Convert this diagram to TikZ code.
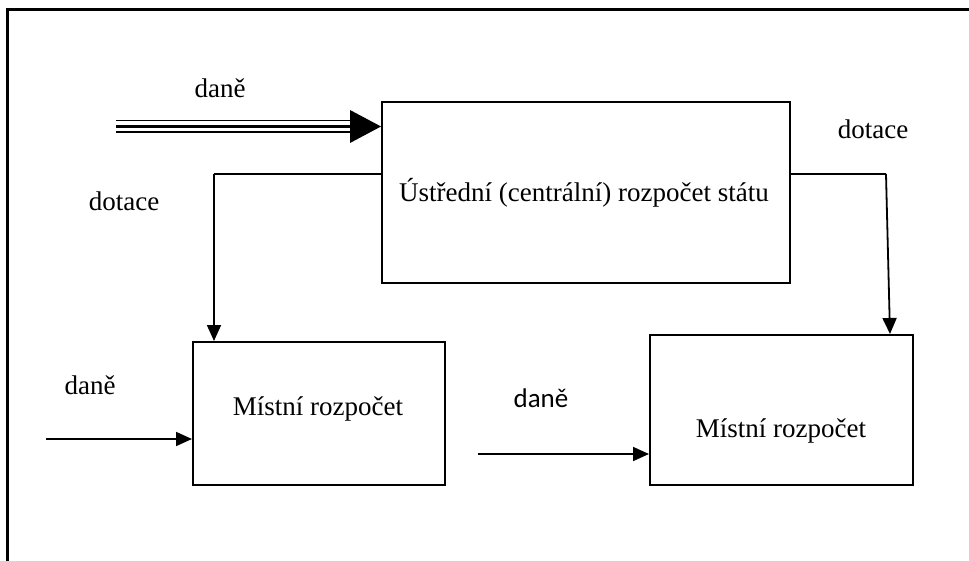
\documentclass[tikz,border=0pt]{standalone}
\usepackage{fontspec}
\setmainfont{Liberation Serif}
\newfontfamily\calibrifont{Carlito}
\usetikzlibrary{arrows.meta}

\begin{document}
\begin{tikzpicture}[x=1pt,y=-1pt,
  budget/.style={draw,line width=2pt,inner sep=0pt},
  lbl/.style={font=\fontsize{27}{31}\selectfont,inner sep=0pt},
  flow/.style={line width=1.8pt,-{Triangle[length=16pt,width=14pt]}},
  link/.style={line width=1.8pt}
]
\useasboundingbox (0,0) rectangle (969,561);

% outer frame (open to the right and bottom)
\draw[line width=3pt] (7,561) -- (7,10) -- (969,10);

% budgets
\node[budget,minimum width=408pt,minimum height=181pt] (stat) at (586,192.5) {};
\node[budget,minimum width=252pt,minimum height=143pt] (mistniA) at (319,413.5) {};
\node[budget,minimum width=263pt,minimum height=150pt] (mistniB) at (781.5,410) {};

\node[lbl] (tstat) at (584,193) {Ústřední (centrální) rozpočet státu};
\node[lbl] (tmistniA) at (318,409) {Místní rozpočet};
\node[lbl] (tmistniB) at (781,431) {Místní rozpočet};

% labels of the flows
\node[lbl] (daneTop) at (220,88) {daně};
\node[lbl] (dotaceL) at (124,201) {dotace};
\node[lbl] (dotaceR) at (873,129) {dotace};
\node[lbl] (daneL) at (90,385) {daně};
\node[lbl,font=\fontsize{27}{31}\selectfont\calibrifont] (daneM) at (541,398) {daně};

% free ends and bends of the connectors
\coordinate (taxStart) at (116,126.5);
\coordinate (headBase) at (350,126.5);
\coordinate (dotLbend) at (214,174);
\coordinate (dotRbend) at (886,174);
\coordinate (taxAstart) at (46,439);
\coordinate (taxBstart) at (478,454);

% taxes into the state budget: triple line with a large head
\draw[line width=1.2pt] (taxStart |- 0,120.5) -- (headBase |- 0,120.5);
\draw[line width=1.2pt] (taxStart |- 0,132) -- (headBase |- 0,132);
\draw[line width=3pt] (taxStart) -- (headBase);
\fill (headBase |- 0,110) -- (stat.west |- 0,126.5) -- (headBase |- 0,143) -- cycle;

% subsidies to the local budgets
\draw[link] (stat.west |- dotLbend) -- (dotLbend);
\draw[flow] (dotLbend) -- (dotLbend |- mistniA.north);
\draw[link] (stat.east |- dotRbend) -- (dotRbend);
\draw[flow] (dotRbend) -- (890,0 |- mistniB.north);

% local taxes
\draw[flow] (taxAstart) -- (mistniA.west |- taxAstart);
\draw[flow] (taxBstart) -- (mistniB.west |- taxBstart);
\end{tikzpicture}
\end{document}
